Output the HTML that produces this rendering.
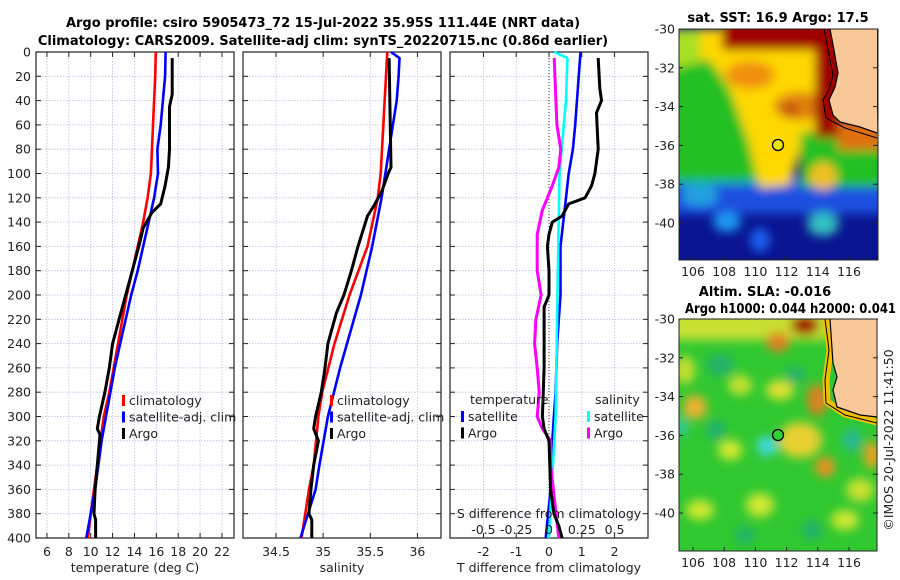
<!DOCTYPE html>
<html><head><meta charset="utf-8">
<style>
html,body{margin:0;padding:0;background:#fff;}
svg{display:block;font-family:"DejaVu Sans","Liberation Sans",sans-serif;}
.tk{font-size:12.5px;fill:#222;}
.tt{font-size:13px;font-weight:bold;fill:#000;}
</style></head>
<body>
<svg id="fig" width="900" height="580" viewBox="0 0 900 580" xmlns="http://www.w3.org/2000/svg">
<defs>
<filter id="bl" x="-20%" y="-20%" width="140%" height="140%"><feGaussianBlur stdDeviation="5"/></filter>
<clipPath id="c1"><rect x="679" y="29" width="199" height="231"/></clipPath>
<clipPath id="c2"><rect x="679" y="319" width="198" height="232"/></clipPath>
</defs>
<text class="tt" x="323" y="27" text-anchor="middle">Argo profile: csiro 5905473_72 15-Jul-2022 35.95S 111.44E (NRT data)</text>
<text class="tt" x="323" y="45" text-anchor="middle">Climatology: CARS2009. Satellite-adj clim: synTS_20220715.nc (0.86d earlier)</text>

<g id="p1"></g>
<g id="p2"></g>
<g id="p3"></g>

<!-- SST map -->
<g>
<text class="tt" x="778" y="22" text-anchor="middle">sat. SST: 16.9 Argo: 17.5</text>
<g clip-path="url(#c1)">
<rect x="679" y="29" width="199" height="231" fill="#0a1490"/>
<g filter="url(#bl)">
<rect x="670" y="178" width="215" height="36" fill="#1a50e0"/>
<ellipse cx="727" cy="222" rx="14" ry="10" fill="#1a9af0"/>
<ellipse cx="823" cy="224" rx="16" ry="12" fill="#30c0c0"/>
<ellipse cx="760" cy="240" rx="10" ry="12" fill="#1a60f0"/>
<ellipse cx="700" cy="195" rx="18" ry="12" fill="#20a0e0"/>
<rect x="670" y="150" width="90" height="34" fill="#10b8b0"/>
<polygon points="670,60 720,60 745,120 760,150 760,180 670,180" fill="#20c020"/>
<polygon points="670,29 840,29 840,150 800,150 790,185 760,188 748,140 730,90 710,60 670,60" fill="#ffd800"/>
<polygon points="670,29 700,29 700,62 670,70" fill="#a8e020"/>
<rect x="800" y="132" width="85" height="55" fill="#20c020"/>
<ellipse cx="823" cy="176" rx="14" ry="14" fill="#f0c020"/>
<ellipse cx="750" cy="75" rx="25" ry="14" fill="#f09010"/>
<ellipse cx="800" cy="106" rx="26" ry="14" fill="#e08010"/>
<ellipse cx="790" cy="110" rx="10" ry="6" fill="#c05010"/>
<rect x="722" y="20" width="118" height="30" fill="#a00000"/>
<rect x="815" y="20" width="28" height="118" fill="#a00000"/>
<rect x="838" y="120" width="45" height="30" fill="#e07010"/>
</g>
<polygon points="830,29 877,29 877,133 860,127 840,122 833,115 829,100 835,87 838,73 834,50" fill="#f8c898"/>
<polyline points="830,29 834,50 838,73 835,87 829,100 833,115 840,122 860,127 877,133" fill="none" stroke="#000" stroke-width="1.2"/>
<polyline points="824,29 829,55 833,75 829,90 823,100 826,118 845,128 877,138" fill="none" stroke="#000" stroke-width="1"/>
<circle cx="778" cy="145" r="5.5" fill="#e8e800" stroke="#000" stroke-width="1.3"/>
</g>
<rect x="679" y="29" width="199" height="231" fill="none" stroke="#222"/>
<g id="m1ax"></g>
</g>

<!-- SLA map -->
<g>
<text class="tt" x="765" y="296" text-anchor="middle">Altim. SLA: -0.016</text>
<text class="tt" x="685" y="313" textLength="211" lengthAdjust="spacingAndGlyphs">Argo h1000: 0.044 h2000: 0.041</text>
<g clip-path="url(#c2)">
<rect x="679" y="319" width="198" height="232" fill="#30c830"/>
<g filter="url(#bl)">
<rect x="670" y="310" width="160" height="30" fill="#c8e030"/>
<ellipse cx="805" cy="325" rx="14" ry="10" fill="#a00000"/>
<ellipse cx="778" cy="342" rx="12" ry="10" fill="#e08020"/>
<ellipse cx="817" cy="400" rx="10" ry="16" fill="#e08020"/>
<ellipse cx="825" cy="467" rx="10" ry="10" fill="#f09020"/>
<ellipse cx="872" cy="455" rx="8" ry="14" fill="#f0a020"/>
<ellipse cx="695" cy="407" rx="12" ry="12" fill="#f0b030"/>
<ellipse cx="780" cy="390" rx="14" ry="10" fill="#e0e030"/>
<ellipse cx="800" cy="440" rx="22" ry="18" fill="#e8d030"/>
<ellipse cx="730" cy="450" rx="12" ry="10" fill="#d8e830"/>
<ellipse cx="700" cy="510" rx="14" ry="10" fill="#d0e830"/>
<ellipse cx="760" cy="505" rx="14" ry="12" fill="#d0e830"/>
<ellipse cx="845" cy="520" rx="14" ry="10" fill="#d0e830"/>
<ellipse cx="740" cy="385" rx="12" ry="10" fill="#c8e030"/>
<ellipse cx="685" cy="370" rx="10" ry="14" fill="#c8e030"/>
<ellipse cx="860" cy="490" rx="14" ry="12" fill="#c8e030"/>
<ellipse cx="767" cy="446" rx="10" ry="10" fill="#40d8e0"/>
<ellipse cx="682" cy="427" rx="6" ry="10" fill="#30c8a0"/>
<ellipse cx="852" cy="440" rx="10" ry="12" fill="#28b890"/>
<ellipse cx="716" cy="430" rx="10" ry="10" fill="#20b070"/>
<ellipse cx="720" cy="365" rx="14" ry="10" fill="#20b070"/>
<ellipse cx="795" cy="375" rx="10" ry="8" fill="#20b070"/>
<ellipse cx="812" cy="530" rx="10" ry="10" fill="#20b070"/>
<ellipse cx="745" cy="535" rx="10" ry="8" fill="#20b070"/>
</g>
<polyline points="826,319 830,350 826,380 827,402 845,414 877,422" fill="none" stroke="#f0c000" stroke-width="7"/>
<polygon points="830,319 877,319 877,417 860,415 837,407 833,390 837,377 833,363 830,323" fill="#f8c898"/>
<polyline points="830,319 833,363 837,377 833,390 837,407 860,415 877,417" fill="none" stroke="#000" stroke-width="1.2"/>
<polyline points="825,319 829,350 825,380 826,403 845,415 877,423" fill="none" stroke="#000" stroke-width="1"/>
<circle cx="778" cy="435" r="5.5" fill="#30d030" stroke="#000" stroke-width="1.3"/>
</g>
<rect x="679" y="319" width="198" height="232" fill="none" stroke="#222"/>
<g id="m2ax"></g>
</g>
<text class="tk" transform="translate(893,440) rotate(-90)" text-anchor="middle">©IMOS 20-Jul-2022 11:41:50</text>
</svg>
<script>
// ---- data ----
const climDepth = [0,20,40,60,80,100,120,140,160,180,200,220,240,260,280,300,320,340,360,380,400];
const climTemp = [15.95,15.9,15.8,15.7,15.6,15.5,15.2,14.8,14.3,13.8,13.3,12.9,12.5,12.1,11.7,11.2,10.9,10.6,10.3,10.0,9.75];
const satTemp = [16.85,16.8,16.6,16.4,16.1,16.15,15.8,15.3,14.8,14.3,13.7,13.2,12.7,12.2,11.8,11.4,11.0,10.7,10.4,10.0,9.6];
const argoTDepth = [5,35,45,80,95,110,125,132,145,160,180,200,220,240,260,280,300,310,315,340,360,380,385,400];
const argoTemp = [17.45,17.45,17.2,17.2,17.1,16.8,16.4,15.6,14.8,14.4,13.8,13.2,12.6,12.0,11.7,11.3,10.8,10.6,10.85,10.6,10.4,10.3,10.45,10.45];
const climSDepth = [0,100,120,160,200,240,280,300,340,360,400];
const climSal = [35.68,35.61,35.58,35.47,35.28,35.12,34.99,34.95,34.9,34.85,34.77];
const satSDepth = [0,5,20,40,60,80,100,120,160,200,230,260,300,340,360,400];
const satSal = [35.72,35.81,35.8,35.78,35.74,35.7,35.66,35.62,35.52,35.4,35.29,35.18,35.05,34.96,34.92,34.76];
const argoSDepth = [5,95,100,115,125,135,145,160,180,200,215,240,260,280,300,310,320,340,360,380,385,400];
const argoSal = [35.7,35.72,35.69,35.62,35.55,35.47,35.43,35.37,35.3,35.22,35.14,35.05,35.02,34.98,34.92,34.9,34.95,34.9,34.87,34.85,34.88,34.88];
const dTsatDepth = [0,60,80,100,120,160,200,220,240,280,300,320,360,400];
const dTsat = [0.96,0.8,0.73,0.6,0.52,0.35,0.35,0.3,0.25,0.2,0.15,0.1,0.05,-0.1];
const dTargoDepth = [5,30,40,50,80,100,110,120,125,135,140,150,160,180,200,210,240,260,300,310,320,360,380,390,400];
const dTargo = [1.5,1.55,1.6,1.45,1.5,1.4,1.3,1.1,0.6,0.4,0.1,0,-0.05,0,0,-0.15,-0.15,-0.15,-0.2,-0.15,0,0.05,0.15,0.3,0.4];
const dSsatDepth = [0,5,40,100,200,300,360,400];
const dSsat = [0.04,0.14,0.13,0.08,0.065,0.05,0.02,0.0];
const dSargoDepth = [5,60,80,95,110,120,130,150,180,200,220,240,260,280,300,310,320,340,400];
const dSargo = [0.04,0.06,0.09,0.075,0.025,-0.012,-0.05,-0.09,-0.09,-0.06,-0.1,-0.11,-0.09,-0.075,-0.09,-0.05,0.012,0.012,0.075];
const depthTicks = [0,20,40,60,80,100,120,140,160,180,200,220,240,260,280,300,320,340,360,380,400];
const tempTicks = [6,8,10,12,14,16,18,20,22];
const salTicks = [34.5,35,35.5,36];
const dTTicks = [-2,-1,0,1,2];
const dSTicks = [-0.5,-0.25,0,0.25,0.5];
const dSTickLabels = ["-0.5","-0.25","0","0.25","0.5"];
const lonTicks = [106,108,110,112,114,116];
const latTicks = [-30,-32,-34,-36,-38,-40];

const NS="http://www.w3.org/2000/svg";
function mk(parent,tag,attrs,text){const e=document.createElementNS(NS,tag);for(const k in attrs)e.setAttribute(k,attrs[k]);if(text!==undefined)e.textContent=text;parent.appendChild(e);return e;}
const Y0=52,Y1=538;
const yD=d=>Y0+(d/400)*(Y1-Y0);
function panel(g,x0,x1,xmin,xmax,xticks,labelsLeft,xlabel){
  const xs=v=>x0+(v-xmin)/(xmax-xmin)*(x1-x0);
  depthTicks.forEach(d=>{
    const l=mk(g,'line',{x1:x0,x2:x1,y1:yD(d),y2:yD(d),stroke:'#b8bfe0','stroke-width':0.8,'stroke-dasharray':'1.5,1.5'});
    
    
    mk(g,'line',{x1:x0,x2:x0+5,y1:yD(d),y2:yD(d),stroke:'#222'});
    mk(g,'line',{x1:x1-5,x2:x1,y1:yD(d),y2:yD(d),stroke:'#222'});
    if(labelsLeft){const t=mk(g,'text',{x:x0-5,y:yD(d)+4.5,'text-anchor':'end',class:'tk'},String(d));
      
      }
  });
  xticks.forEach(v=>{
    const l=mk(g,'line',{x1:xs(v),x2:xs(v),y1:Y0,y2:Y1,stroke:'#b8bfe0','stroke-width':0.8,'stroke-dasharray':'1.5,1.5'});
    
    
    mk(g,'line',{x1:xs(v),x2:xs(v),y1:Y1,y2:Y1-5,stroke:'#222'});
    mk(g,'line',{x1:xs(v),x2:xs(v),y1:Y0,y2:Y0+5,stroke:'#222'});
    const t=mk(g,'text',{x:xs(v),y:556,'text-anchor':'middle',class:'tk'},String(v));
    
    
  });
  const b=mk(g,'rect',{x:x0,y:Y0,width:x1-x0,height:Y1-Y0,fill:'none',stroke:'#222','stroke-width':1.2});
  
  
  const xl=mk(g,'text',{x:(x0+x1)/2,y:572,'text-anchor':'middle',class:'tk'},xlabel);
  
  
  return xs;
}
function line(g,xs,depth,vals,color,name,w){
  const pts=depth.map((d,i)=>xs(vals[i]).toFixed(1)+','+yD(d).toFixed(1)).join(' ');
  const p=mk(g,'polyline',{points:pts,fill:'none',stroke:color,'stroke-width':w||2.6,'stroke-linejoin':'round'});
  
  
}
function legend(g,x,y,items){
  items.forEach((it,i)=>{
    const yy=y+i*16.5;
    mk(g,'rect',{x:x,y:yy-10,width:3,height:11,fill:it[1]});
    const t=mk(g,'text',{x:x+7,y:yy,class:'tk'},it[0]);
    
    
  });
}
// panel 1
const g1=document.getElementById('p1');
const xs1=panel(g1,36,234,5,23.1,tempTicks,true,'temperature (deg C)');
line(g1,xs1,climDepth,climTemp,'#ff0000','clim-temp-line');
line(g1,xs1,climDepth,satTemp,'#0000ff','sat-temp-line');
line(g1,xs1,argoTDepth,argoTemp,'#000','argo-temp-line',3);
legend(g1,122,405,[['climatology','#ff0000'],['satellite-adj. clim','#0000ff'],['Argo','#000']]);
// panel 2
const g2=document.getElementById('p2');
const xs2=panel(g2,243,441,34.15,36.25,salTicks,false,'salinity');
line(g2,xs2,climSDepth,climSal,'#ff0000','clim-sal-line');
line(g2,xs2,satSDepth,satSal,'#0000ff','sat-sal-line');
line(g2,xs2,argoSDepth,argoSal,'#000','argo-sal-line',3);
legend(g2,330,405,[['climatology','#ff0000'],['satellite-adj. clim','#0000ff'],['Argo','#000']]);
// panel 3
const g3=document.getElementById('p3');
const xs3=panel(g3,450,648,-3.02,3.02,dTTicks,false,'T difference from climatology');
const xsS=v=>xs3(v*4);
const z=mk(g3,'line',{x1:xs3(0),x2:xs3(0),y1:Y0,y2:Y1,stroke:'#333','stroke-dasharray':'1,2'});


line(g3,xs3,dTsatDepth,dTsat,'#0000ff','sat-tdiff-line');
line(g3,xsS,dSsatDepth,dSsat,'#00ffff','sat-sdiff-line');
line(g3,xsS,dSargoDepth,dSargo,'#ff00ff','argo-sdiff-line',3);
line(g3,xs3,dTargoDepth,dTargo,'#000','argo-tdiff-line',3);
const lt=mk(g3,'text',{x:470,y:404,class:'tk'},'temperature');


legend(g3,461,421,[['satellite','#0000ff'],['Argo','#000']]);
const ls=mk(g3,'text',{x:595,y:404,class:'tk'},'salinity');


legend(g3,587,421,[['satellite','#00ffff'],['Argo','#ff00ff']]);
const st=mk(g3,'text',{x:549,y:518,'text-anchor':'middle',class:'tk'},'S difference from climatology');


dSTicks.forEach((v,i)=>{
  const t=mk(g3,'text',{x:xsS(v),y:534,'text-anchor':'middle',class:'tk'},dSTickLabels[i]);
  
  
});
// map axes
function mapAxes(id,top,bottom){
  const g=document.getElementById(id);
  const xl=lon=>693+(lon-106)*15.6;
  const yl=lat=>top+(-30-lat)*19.4;
  lonTicks.forEach(l=>{
    mk(g,'line',{x1:xl(l),x2:xl(l),y1:bottom,y2:bottom-4,stroke:'#222'});
    const t=mk(g,'text',{x:xl(l),y:bottom+16,'text-anchor':'middle',class:'tk'},String(l));
    
    
  });
  latTicks.forEach(l=>{
    mk(g,'line',{x1:679,x2:683,y1:yl(l),y2:yl(l),stroke:'#222'});
    mk(g,'line',{x1:873,x2:878,y1:yl(l),y2:yl(l),stroke:'#222'});
    const t=mk(g,'text',{x:675,y:yl(l)+4.5,'text-anchor':'end',class:'tk'},String(l));
    
    
  });
}
mapAxes('m1ax',29,260);
mapAxes('m2ax',319,551);
</script>
</body></html>
